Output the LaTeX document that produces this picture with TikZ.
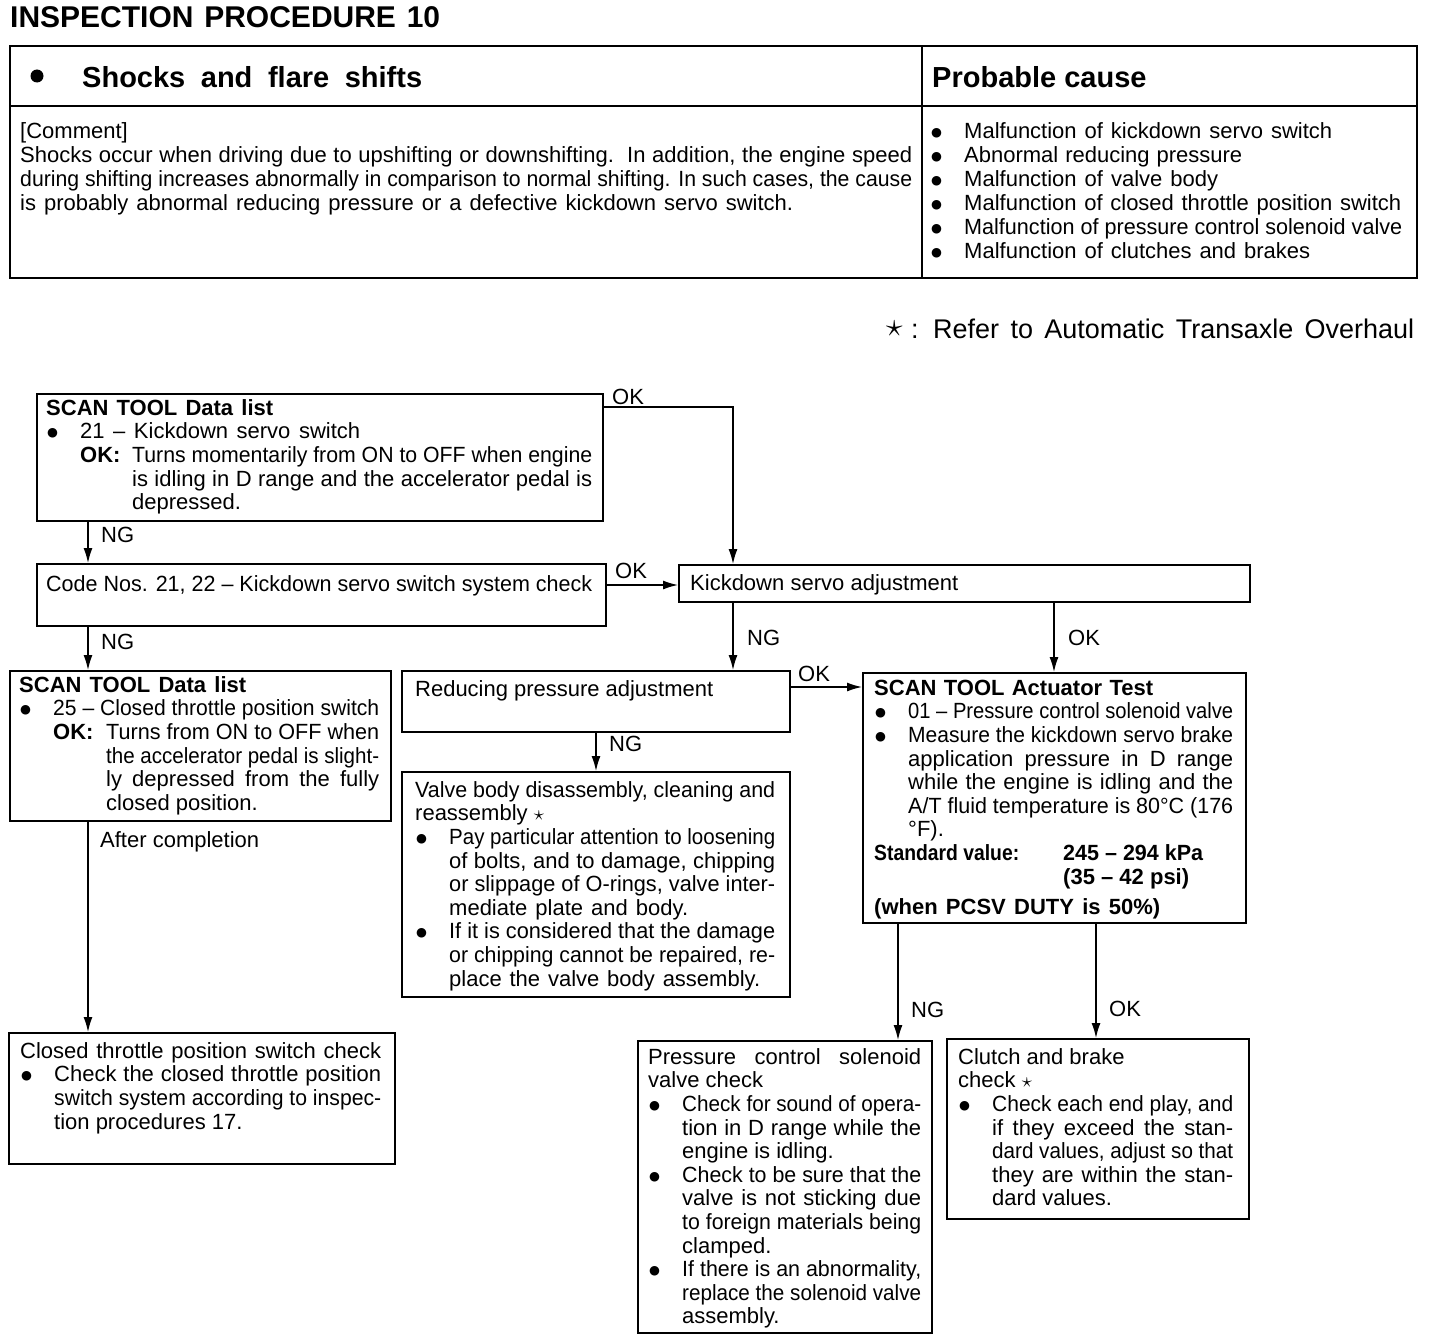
\documentclass[tikz,border=0pt]{standalone}
\usepackage{fontspec}
\setmainfont{Liberation Sans}
\newfontfamily\dvfont{DejaVu Sans}
\usepackage{graphicx}
\usetikzlibrary{arrows.meta}
\newsavebox\jbox
\newcommand\J[2]{\sbox\jbox{#2}\ifdim\wd\jbox>#1pt\relax\resizebox{#1pt}{\height}{\usebox\jbox}\else\hbox to #1pt{#2}\fi}
\newcommand\BL{\makebox[34pt][l]{\hspace{1pt}\raisebox{2pt}{\dvfont\fontsize{12.5}{12.5}\selectfont ●}}}
\newcommand\IN{\hspace*{34pt}}
\newcommand\fst{\rule{0pt}{16pt}}
\tikzset{
  box/.style={draw, line width=1.8pt, inner sep=0pt, anchor=north west},
  txt/.style={inner sep=0pt, anchor=north west, align=left, font=\fontsize{22}{23.6}\selectfont},
  one/.style={inner sep=0pt, anchor=base west, font=\fontsize{22}{23.6}\selectfont},
  lbl/.style={inner sep=0pt, anchor=base west, font=\fontsize{22}{24}\selectfont},
  arr/.style={line width=1.4pt, -{Latex[length=15pt,width=9pt]}},
  frame/.style={line width=1.8pt}
}
\begin{document}
\begin{tikzpicture}[x=1pt,y=-1pt]
\useasboundingbox (0,0) rectangle (1440,1338);
% title
\node[inner sep=0pt, anchor=base west, font=\bfseries\fontsize{30}{32}\selectfont] (title) at (10,28) {\J{430}{INSPECTION PROCEDURE 10}};
% top table
\draw[frame] (10,46) rectangle (1417,278);
\draw[frame] (922,46) -- (922,278);
\draw[frame] (10,106) -- (1417,106);
\fill (37,76) circle (6.5);
\node[inner sep=0pt, anchor=base west, font=\bfseries\fontsize{29}{30}\selectfont] (hdr) at (82,87) {\J{340}{Shocks and flare shifts}};
\node[inner sep=0pt, anchor=base west, font=\bfseries\fontsize{29}{30}\selectfont] (pc) at (932,87) {Probable cause};
\node[txt, font=\fontsize{22}{24}\selectfont] (comment) at (20,122) {%
[Comment]\fst\\
\J{892}{Shocks occur when driving due to upshifting or downshifting.\ \ In addition, the engine speed}\\
\J{892}{during shifting increases abnormally in comparison to normal shifting. In such cases, the cause}\\
\J{773}{is probably abnormal reducing pressure or a defective kickdown servo switch.}};
\node[txt, font=\fontsize{22}{24}\selectfont] (causes) at (930,122) {%
\BL\J{368}{Malfunction of kickdown servo switch}\fst\\
\BL\J{278}{Abnormal reducing pressure}\\
\BL\J{254}{Malfunction of valve body}\\
\BL\J{437}{Malfunction of closed throttle position switch}\\
\BL\J{438}{Malfunction of pressure control solenoid valve}\\
\BL\J{346}{Malfunction of clutches and brakes}};
% note
\node[inner sep=0pt, anchor=base west, font=\fontsize{27}{28}\selectfont] (note) at (886,338) {\makebox[47pt][l]{\makebox[25pt][l]{\raisebox{0.05em}{\scalebox{1.35}{$\star$}}}:}\J{481}{Refer to Automatic Transaxle Overhaul}};

% boxes
\node[box, minimum width=566pt, minimum height=127pt] (b1) at (36,393) {};
\node[box, minimum width=569pt, minimum height=62pt] (b2) at (36,563) {};
\node[box, minimum width=571pt, minimum height=37pt] (b3) at (678,564) {};
\node[box, minimum width=381pt, minimum height=150pt] (b4) at (9,670) {};
\node[box, minimum width=386pt, minimum height=131pt] (b5) at (8,1032) {};
\node[box, minimum width=388pt, minimum height=61pt] (b6) at (401,670) {};
\node[box, minimum width=388pt, minimum height=225pt] (b8) at (401,771) {};
\node[box, minimum width=383pt, minimum height=250pt] (b7) at (862,672) {};
\node[box, minimum width=294pt, minimum height=292pt] (b9) at (637,1040) {};
\node[box, minimum width=302pt, minimum height=180pt] (b10) at (946,1038) {};

% box texts
\node[txt] (t1) at (46,399) {%
\textbf{\J{227}{SCAN TOOL Data list}}\fst\\
\BL\J{280}{21 – Kickdown servo switch}\\
\IN\makebox[52pt][l]{\textbf{OK:}}\J{460}{Turns momentarily from ON to OFF when engine}\\
\hspace*{86pt}\J{460}{is idling in D range and the accelerator pedal is}\\
\hspace*{86pt}depressed.};
\node[one] (t2) at (46,591) {\J{546}{Code Nos. 21, 22 – Kickdown servo switch system check}};
\node[one] (t3) at (690,590) {\J{268}{Kickdown servo adjustment}};
\node[txt] (t4) at (19,676) {%
\textbf{\J{227}{SCAN TOOL Data list}}\fst\\
\BL\J{326}{25 – Closed throttle position switch}\\
\IN\makebox[53pt][l]{\textbf{OK:}}\J{273}{Turns from ON to OFF when}\\
\hspace*{87pt}\J{273}{the accelerator pedal is slight-}\\
\hspace*{87pt}\J{273}{ly depressed from the fully}\\
\hspace*{87pt}closed position.};
\node[txt] (t5) at (20,1042) {%
\J{361}{Closed throttle position switch check}\fst\\
\BL\J{327}{Check the closed throttle position}\\
\IN\J{327}{switch system according to inspec-}\\
\IN tion procedures 17.};
\node[one] (t6) at (415,696) {\J{298}{Reducing pressure adjustment}};
\node[txt] (t8) at (415,781) {%
\J{360}{Valve body disassembly, cleaning and}\fst\\
reassembly $\star$\\
\BL\J{326}{Pay particular attention to loosening}\\
\IN\J{326}{of bolts, and to damage, chipping}\\
\IN\J{326}{or slippage of O-rings, valve inter-}\\
\IN\J{239}{mediate plate and body.}\\
\BL\J{326}{If it is considered that the damage}\\
\IN\J{326}{or chipping cannot be repaired, re-}\\
\IN\J{311}{place the valve body assembly.}};
\node[txt] (t7) at (874,679) {%
\textbf{\J{279}{SCAN TOOL Actuator Test}}\fst\\
\BL\J{325}{01 – Pressure control solenoid valve}\\
\BL\J{325}{Measure the kickdown servo brake}\\
\IN\J{325}{application pressure in D range}\\
\IN\J{325}{while the engine is idling and the}\\
\IN\J{325}{A/T fluid temperature is 80°C (176}\\
\IN °F).\\
\textbf{\makebox[189pt][l]{\J{145}{Standard value:}}\J{140}{245 – 294 kPa}}\\
\hspace*{189pt}\textbf{\J{126}{(35 – 42 psi)}}\\[7pt]
\textbf{\J{286}{(when PCSV DUTY is 50\%)}}};
\node[txt] (t9) at (648,1048) {%
\J{273}{Pressure control solenoid}\fst\\
valve check\\
\BL\J{239}{Check for sound of opera-}\\
\IN\J{239}{tion in D range while the}\\
\IN engine is idling.\\
\BL\J{239}{Check to be sure that the}\\
\IN\J{239}{valve is not sticking due}\\
\IN\J{239}{to foreign materials being}\\
\IN clamped.\\
\BL\J{239}{If there is an abnormality,}\\
\IN\J{239}{replace the solenoid valve}\\
\IN assembly.};
\node[txt] (t10) at (958,1048) {%
Clutch and brake\fst\\
check $\star$\\
\BL\J{241}{Check each end play, and}\\
\IN\J{241}{if they exceed the stan-}\\
\IN\J{241}{dard values, adjust so that}\\
\IN\J{241}{they are within the stan-}\\
\IN dard values.};

% connectors
\coordinate (c0) at ([yshift=-14pt]b1.north east);
\coordinate (c0b) at ([xshift=55pt]b3.north west);
\draw[arr] (c0) -| (c0b);
\coordinate (c1) at ([xshift=52pt]b1.south west);
\draw[arr] (c1) -- (c1 |- b2.north);
\coordinate (c2) at ([yshift=-22pt]b2.north east);
\draw[arr] (c2) -- (c2 -| b3.west);
\coordinate (c3) at ([xshift=52pt]b2.south west);
\draw[arr] (c3) -- (c3 |- b4.north);
\coordinate (c4) at ([xshift=55pt]b3.south west);
\draw[arr] (c4) -- (c4 |- b6.north);
\coordinate (c5) at ([xshift=376pt]b3.south west);
\draw[arr] (c5) -- (c5 |- b7.north);
\coordinate (c6) at ([yshift=-17pt]b6.north east);
\draw[arr] (c6) -- (c6 -| b7.west);
\coordinate (c7) at ([xshift=195pt]b6.south west);
\draw[arr] (c7) -- (c7 |- b8.north);
\coordinate (c8) at ([xshift=79pt]b4.south west);
\draw[arr] (c8) -- (c8 |- b5.north);
\coordinate (c9) at ([xshift=36pt]b7.south west);
\draw[arr] (c9) -- (c9 |- b9.north);
\coordinate (c10) at ([xshift=234pt]b7.south west);
\draw[arr] (c10) -- (c10 |- b10.north);

% labels
\node[lbl] (l1) at (612,404) {OK};
\node[lbl] (l2) at (101,542) {NG};
\node[lbl] (l3) at (615,578) {OK};
\node[lbl] (l4) at (101,649) {NG};
\node[lbl] (l5) at (747,645) {NG};
\node[lbl] (l6) at (1068,645) {OK};
\node[lbl] (l7) at (798,681) {OK};
\node[lbl] (l8) at (609,751) {NG};
\node[lbl] (l9) at (100,847) {\J{159}{After completion}};
\node[lbl] (l10) at (911,1017) {NG};
\node[lbl] (l11) at (1109,1016) {OK};
\end{tikzpicture}
\end{document}
